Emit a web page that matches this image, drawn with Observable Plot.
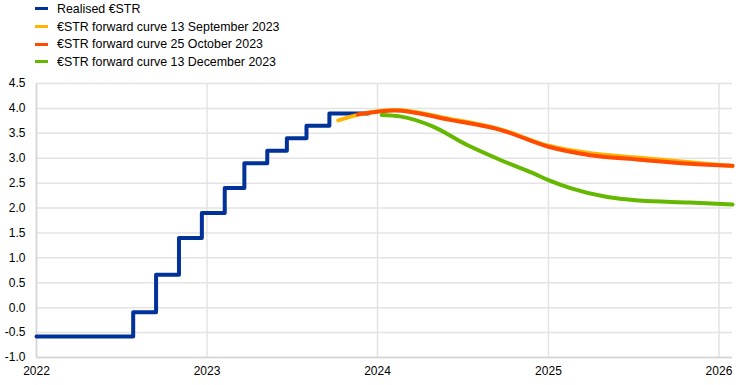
<!DOCTYPE html>
<html>
<head>
<meta charset="utf-8">
<script src="https://cdn.jsdelivr.net/npm/d3@7"></script>
<script src="https://cdn.jsdelivr.net/npm/@observablehq/plot@0.6"></script>
<style>
  body { margin: 0; background: #fff; font-family: "Liberation Sans", Arial, sans-serif; }
  #wrap { position: relative; width: 743px; height: 385px; }
  #legend { position: absolute; left: 35px; top: 0; font-size: 12.4px; color: #000; }
  .item { height: 17.7px; display: flex; align-items: center; }
  .sw { width: 13px; height: 3px; margin-right: 9px; }
</style>
</head>
<body>
<div id="wrap"><div id="legend"></div></div>
<script>
// Series names and colours
const seriesNames = ["Realised €STR", "€STR forward curve 13 September 2023", "€STR forward curve 25 October 2023", "€STR forward curve 13 December 2023"];
const seriesColors = ["#003299", "#ffb400", "#ff4b00", "#65b800"];

// Realised €STR (step changes)
const realisedDates = ["2022-01-01","2022-07-27","2022-09-14","2022-11-02","2022-12-21","2023-02-08","2023-03-22","2023-05-10","2023-06-21","2023-08-02","2023-09-20","2023-12-12"];
const realisedValues = [-0.58, -0.09, 0.66, 1.40, 1.90, 2.40, 2.90, 3.15, 3.40, 3.65, 3.90, 3.90];

// Forward curve 13 September 2023
const sepDates = ["2023-10-09","2023-11-24","2024-02-07","2024-06-04","2024-09-20","2025-01-01","2025-04-01","2025-07-15","2025-10-30","2026-01-30"];
const sepValues = [3.76, 3.88, 3.97, 3.79, 3.58, 3.25, 3.10, 3.01, 2.92, 2.84];

// Forward curve 25 October 2023
const octDates = ["2023-11-20","2024-02-07","2024-06-04","2024-09-20","2025-01-01","2025-04-01","2025-07-15","2025-10-30","2026-01-30"];
const octValues = [3.88, 3.96, 3.77, 3.57, 3.23, 3.06, 2.97, 2.89, 2.85];

// Forward curve 13 December 2023
const decDates = ["2024-01-10","2024-02-18","2024-04-28","2024-07-10","2024-09-19","2024-11-29","2025-01-01","2025-02-17","2025-05-07","2025-07-15","2025-10-30","2026-01-30"];
const decValues = [3.87, 3.84, 3.64, 3.27, 2.97, 2.70, 2.56, 2.40, 2.22, 2.15, 2.11, 2.07];

// Tick labels
const yTicks = [-1.0, -0.5, 0.0, 0.5, 1.0, 1.5, 2.0, 2.5, 3.0, 3.5, 4.0, 4.5];
const xTickYears = ["2022", "2023", "2024", "2025", "2026"];

const parse = d3.utcParse("%Y-%m-%d");
const toRows = (dates, values) => dates.map((d, i) => ({date: parse(d), value: values[i]}));
const realised = toRows(realisedDates, realisedValues);
const sep = toRows(sepDates, sepValues);
const oct = toRows(octDates, octValues);
const dec = toRows(decDates, decValues);
const xTicks = xTickYears.map(y => parse(y + "-01-01"));

const chart = Plot.plot({
  width: 743,
  height: 385,
  marginLeft: 36,
  marginRight: 11,
  marginTop: 83,
  marginBottom: 28,
  style: {fontFamily: "'Liberation Sans', Arial, sans-serif", fontSize: "12px", color: "#000", background: "#fff"},
  x: {type: "utc", domain: [parse("2022-01-01"), parse("2026-01-30")], ticks: xTicks, tickFormat: d3.utcFormat("%Y"), tickSize: 0, tickPadding: 9, label: null},
  y: {domain: [-1, 4.5], ticks: yTicks, tickFormat: d => d.toFixed(1), tickSize: 0, tickPadding: 11, label: null},
  marks: [
    Plot.gridY(yTicks, {stroke: "#e3e3e3", strokeOpacity: 1, strokeWidth: 1.5}),
    Plot.gridX(xTicks, {stroke: "#e3e3e3", strokeOpacity: 1, strokeWidth: 1.5}),
    Plot.ruleX([parse("2022-01-01")], {stroke: "#d4d4d4", strokeWidth: 1.5}),
    Plot.ruleY([-1], {stroke: "#d4d4d4", strokeWidth: 1.5}),
    Plot.line(realised, {x: "date", y: "value", curve: "step-after", stroke: seriesColors[0], strokeWidth: 4}),
    Plot.line(sep, {x: "date", y: "value", curve: "monotone-x", stroke: seriesColors[1], strokeWidth: 4}),
    Plot.line(oct, {x: "date", y: "value", curve: "monotone-x", stroke: seriesColors[2], strokeWidth: 4}),
    Plot.line(dec, {x: "date", y: "value", curve: "monotone-x", stroke: seriesColors[3], strokeWidth: 4})
  ]
});
document.getElementById("wrap").prepend(chart);

const legend = document.getElementById("legend");
seriesNames.forEach((n, i) => {
  const it = document.createElement("div");
  it.className = "item";
  const sw = document.createElement("div");
  sw.className = "sw";
  sw.style.background = seriesColors[i];
  const tx = document.createElement("span");
  tx.textContent = n;
  it.appendChild(sw);
  it.appendChild(tx);
  legend.appendChild(it);
});
</script>
</body>
</html>
